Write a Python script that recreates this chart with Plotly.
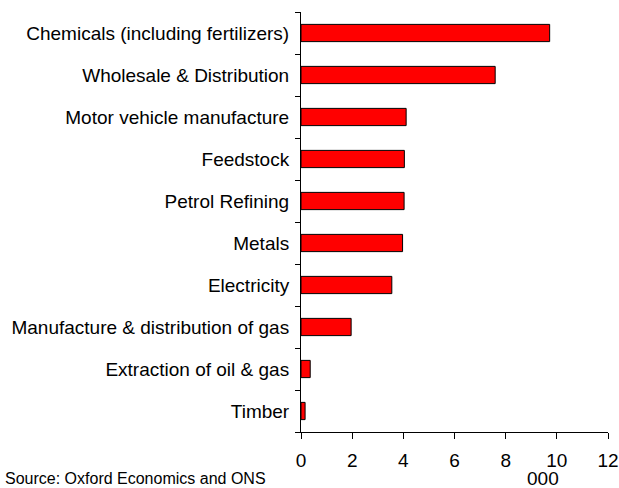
import plotly.graph_objects as go

categories = [
    "Chemicals (including fertilizers)",
    "Wholesale & Distribution",
    "Motor vehicle manufacture",
    "Feedstock",
    "Petrol Refining",
    "Metals",
    "Electricity",
    "Manufacture & distribution of gas",
    "Extraction of oil & gas",
    "Timber",
]
values = [9.72, 7.59, 4.11, 4.04, 4.03, 3.97, 3.55, 1.96, 0.36, 0.16]
x_ticks = [0, 2, 4, 6, 8, 10, 12]

fig = go.Figure(go.Bar(
    y=categories, x=values, orientation="h",
    marker=dict(color="#FF0000", line=dict(color="#000000", width=1)),
    width=0.41,
))

font = dict(family="Liberation Sans, Arial, sans-serif", size=19, color="#000000")

fig.update_layout(
    width=619, height=488,
    margin=dict(l=301, r=11, t=12, b=56, autoexpand=False),
    paper_bgcolor="white", plot_bgcolor="white",
    showlegend=False,
    font=font,
)
fig.update_xaxes(
    range=[0, 12], tickvals=x_ticks, ticktext=[str(v) for v in x_ticks],
    showgrid=False, zeroline=False, automargin=False,
    showline=True, linecolor="#000000", linewidth=1,
    ticks="outside", ticklen=6, tickcolor="#000000",
    ticklabelstandoff=5,
)
fig.update_yaxes(
    categoryorder="array", categoryarray=categories[::-1],
    range=[-0.5, len(categories) - 0.5],
    showgrid=False, zeroline=False, automargin=False,
    showline=True, linecolor="#000000", linewidth=1,
    ticks="outside", ticklen=5, tickcolor="#000000", tickson="boundaries",
    ticklabelstandoff=7,
)
fig.add_annotation(text="Source: Oxford Economics and ONS", xref="paper", yref="paper",
                   x=-298/307, y=-46/420, xanchor="left", yanchor="middle",
                   showarrow=False, font=dict(size=16))
fig.add_annotation(text="000", xref="x", yref="paper",
                   x=9.45, y=-46/420, xanchor="center", yanchor="middle",
                   showarrow=False, font=dict(size=19))
fig.write_html("out.html", config={"displayModeBar": False},
               post_script="document.body.style.margin='0';")
